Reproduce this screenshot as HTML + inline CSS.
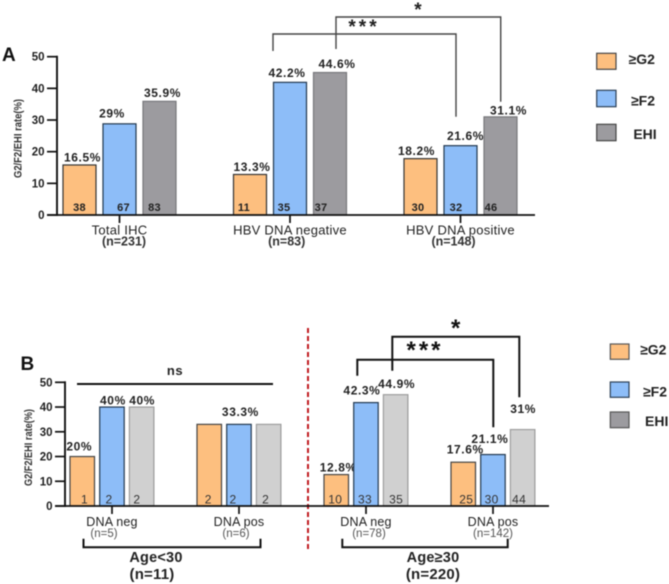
<!DOCTYPE html>
<html lang="en">
<head>
<meta charset="utf-8">
<title>G2/F2/EHI rate charts</title>
<style>
html,body{margin:0;padding:0;background:#fff;width:669px;height:584px;overflow:hidden}
svg{display:block;font-family:"Liberation Sans",Arial,sans-serif;filter:blur(.45px)}
</style>
</head>
<body>
<svg id="figure" width="669" height="584" viewBox="0 0 669 584" xmlns="http://www.w3.org/2000/svg">
  <rect width="669" height="584" fill="#fff"/>
  <text x="2" y="61" font-size="19" font-weight="700" fill="#111">A</text>
  <text x="20.5" y="370" font-size="19" font-weight="700" fill="#111">B</text>

  <g fill="none" stroke="#444" stroke-width="1.4">
    <path d="M273 51V34H456V116.7"/>
    <path d="M336 49V17H500.7V101.7"/>
  </g>
  <text x="364" y="33" font-size="19" font-weight="700" text-anchor="middle" letter-spacing="3" fill="#222">***</text>
  <text x="418" y="16" font-size="19" font-weight="700" text-anchor="middle" fill="#222">*</text>

  <g fill="none" stroke="#111" stroke-width="2">
    <path d="M357.3 375.7V359.7H493.3V427.3"/>
    <path d="M392.3 370.7V336.7H519.3V397.3"/>
    <path d="M77 384H273"/>
    <path d="M83.5 538.7V547.3H260.5V538.7"/>
    <path d="M342.3 538.7V547.3H507.7V538.7"/>
  </g>
  <text x="425" y="358" font-size="24" font-weight="700" text-anchor="middle" letter-spacing="3" fill="#111">***</text>
  <text x="455.7" y="336" font-size="24" font-weight="700" text-anchor="middle" fill="#111">*</text>
  <text x="175" y="375" font-size="13" font-weight="700" text-anchor="middle" letter-spacing=".5" fill="#222">ns</text>
  <path d="M308 328V550" stroke="#c01a20" stroke-width="2" stroke-dasharray="5 3" fill="none"/>

  <text x="156" y="562" font-size="14.5" font-weight="700" text-anchor="middle" letter-spacing=".2" fill="#222">Age&lt;30</text>
  <text x="152" y="579" font-size="15" font-weight="700" text-anchor="middle" letter-spacing=".2" fill="#222">(n=11)</text>
  <text x="433" y="562" font-size="14.5" font-weight="700" text-anchor="middle" letter-spacing=".2" fill="#222">Age≥30</text>
  <text x="433" y="579" font-size="15" font-weight="700" text-anchor="middle" letter-spacing=".2" fill="#222">(n=220)</text>

  <g font-size="14" font-weight="700" fill="#222" text-anchor="middle">
    <rect x="596.7" y="53.3" width="19.3" height="16" fill="#FDBF7F" stroke="#444" stroke-width="1.2"/>
    <text x="641.7" y="64">≥G2</text>
    <rect x="596.7" y="90.3" width="19.3" height="16.4" fill="#8DBDF8" stroke="#2b3f55" stroke-width="1.2"/>
    <text x="643" y="105.5">≥F2</text>
    <rect x="596.7" y="124.3" width="19.3" height="16.4" fill="#9C9B9F" stroke="#444" stroke-width="1.2"/>
    <text x="645" y="139">EHI</text>
  </g>
  <g font-size="14" font-weight="700" fill="#222" text-anchor="middle">
    <rect x="610.3" y="344" width="18.7" height="15.3" fill="#FDBF7F" stroke="#555" stroke-width="1.2"/>
    <text x="653.3" y="354.5">≥G2</text>
    <rect x="610.3" y="382" width="18.7" height="15.3" fill="#8DBDF8" stroke="#2b3f55" stroke-width="1.2"/>
    <text x="655" y="396.5">≥F2</text>
    <rect x="610.3" y="412" width="18.7" height="15.7" fill="#9C9B9F" stroke="#555" stroke-width="1.2"/>
    <text x="656.7" y="426">EHI</text>
  </g>
</svg>
<script>
/* ---------- Data: panel A ---------- */
const yTickValues = [0, 10, 20, 30, 40, 50];
const categoriesA = ["Total IHC", "HBV DNA negative", "HBV DNA positive"];
const sampleSizesA = ["(n=231)", "(n=83)", "(n=148)"];
const g2ValuesA = [15.8, 12.8, 17.8];
const f2ValuesA = [28.8, 41.9, 21.9];
const ehiValuesA = [35.9, 45, 31];
const g2LabelsA = ["16.5%", "13.3%", "18.2%"];
const f2LabelsA = ["29%", "42.2%", "21.6%"];
const ehiLabelsA = ["35.9%", "44.6%", "31.1%"];
const g2CountsA = ["38", "11", "30"];
const f2CountsA = ["67", "35", "32"];
const ehiCountsA = ["83", "37", "46"];

/* ---------- Data: panel B ---------- */
const categoriesB = ["DNA neg", "DNA pos", "DNA neg", "DNA pos"];
const sampleSizesB = ["(n=5)", "(n=6)", "(n=78)", "(n=142)"];
const g2ValuesB = [20, 33, 12.7, 17.7];
const f2ValuesB = [40, 33, 41.8, 20.8];
const ehiValuesB = [40, 33, 45, 30.9];
const g2LabelsB = ["20%", "", "12.8%", "17.6%"];
const f2LabelsB = ["40%", "33.3%", "42.3%", "21.1%"];
const ehiLabelsB = ["40%", "", "44.9%", "31%"];
const g2CountsB = ["1", "2", "10", "25"];
const f2CountsB = ["2", "2", "33", "30"];
const ehiCountsB = ["2", "2", "35", "44"];

/* ---------- Hand placement of annotations relative to their bars (layout, not data) ---------- */
const layoutA = {
  x0: 63, groupStep: 170.5, barStep: 40, barWidth: 33, axisX: 57, axisStart: 47, axisEnd: 535,
  yBase: 215, yTop: 56.7, tickBottom: 223, centerOffset: 56.5,
  colors: ["#FDBF7F", "#8DBDF8", "#9C9B9F"], strokes: ["#333", "#22384f", "#77777b"],
  labelNudge: [[[3,-3.5],[-7.5,-6.5],[3,-4.5]],[[2,-3.5],[-3,-5.5],[7,-4.5]],[[-4,-3.5],[5,-5.5],[8,-2.5]]],
  countNudge: [[0,4,-5],[-6,-6,-9],[-2.5,-4.5,-9.5]],
  countY: 211, countSize: 11, countWeight: 700, countFill: "#222",
  nameNudge: [0,0,0], sizeNudge: [4.5,-3.3,-7], nameY: 234.7, sizeY: 245.7,
  nameSize: 13, nameSpacing: .25, sizeSize: 12.5, sizeWeight: 700, sizeFill: "#333",
  tickFont: 11.5, titleX: 21.5, titleMid: 138.5, titleLen: 79
};
const layoutB = {
  x0: 70, groupStep: 127, barStep: 29.7, barWidth: 24.5, axisX: 65, axisStart: 55, axisEnd: 549,
  yBase: 506, yTop: 382.3, tickBottom: 514, centerOffset: 42,
  colors: ["#FDBF7F", "#8DBDF8", "#D0D0D0"], strokes: ["#444", "#22384f", "#9d9d9d"],
  labelNudge: [[[-3,-6],[1,-2.5],[.5,-2.5]],[[0,0],[1.5,-8.5],[0,0]],[[2,-3],[-4,-8],[1,-6.7]],[[2,-8.6],[-3,-11.3],[.5,-16.4]]],
  countNudge: [[2.3,-3,-4.8],[-1,-6,-3],[-1,-1,.5],[3,-1.3,-3.5]],
  countY: 503.5, countSize: 12, countWeight: 400, countFill: "#333",
  nameNudge: [0,0,0,0], sizeNudge: [-8,-3,3,0], nameY: 526, sizeY: 537,
  nameSize: 12.5, nameSpacing: .2, sizeSize: 11.5, sizeWeight: 400, sizeFill: "#555",
  tickFont: 11.5, titleX: 32, titleMid: 447.5, titleLen: 77
};

const SVG_NS = "http://www.w3.org/2000/svg";
const figure = document.getElementById("figure");
function makeEl(parent, tag, attrs, content) {
  const el = document.createElementNS(SVG_NS, tag);
  for (const k in attrs) el.setAttribute(k, attrs[k]);
  if (content !== undefined) el.textContent = content;
  parent.appendChild(el);
  return el;
}
function drawPanel(panel, L, categories, sizes, seriesValues, seriesLabels, seriesCounts) {
  const yScale = v => L.yBase - (v / 50) * (L.yBase - L.yTop);
  const groupX = i => L.x0 + i * L.groupStep;
  const barX = (i, s) => groupX(i) + s * L.barStep;
  const root = makeEl(figure, "g", {});
  
  

  seriesValues.forEach((values, s) => {
    values.forEach((v, i) => {
      const bar = makeEl(root, "rect", {
        x: barX(i, s), y: yScale(v), width: L.barWidth, height: L.yBase - yScale(v),
        fill: L.colors[s], stroke: L.strokes[s], "stroke-width": 1.2
      });
      
      

      const text = seriesLabels[s][i];
      if (text) {
        const n = L.labelNudge[i][s];
        const label = makeEl(root, "text", {
          x: barX(i, s) + L.barWidth / 2 + n[0], y: yScale(v) + n[1], "font-size": 12,
          "font-weight": 700, "text-anchor": "middle", "letter-spacing": ".6", fill: "#222"
        }, text);
        
        
      }
      const count = makeEl(root, "text", {
        x: barX(i, s) + L.barWidth / 2 + L.countNudge[i][s], y: L.countY, "font-size": L.countSize,
        "font-weight": L.countWeight, "text-anchor": "middle", "letter-spacing": ".3", fill: L.countFill
      }, seriesCounts[s][i]);
      
      
    });
  });

  const yAxis = makeEl(root, "line", { x1: L.axisX, x2: L.axisX, y1: L.yTop - 1, y2: L.yBase + 1, stroke: "#111", "stroke-width": 1.9 });
  
  
  const xAxis = makeEl(root, "line", { x1: L.axisStart, x2: L.axisEnd, y1: L.yBase, y2: L.yBase, stroke: "#111", "stroke-width": 1.7 });
  
  

  yTickValues.forEach(t => {
    const tick = makeEl(root, "line", { x1: L.axisStart, x2: L.axisX, y1: yScale(t), y2: yScale(t), stroke: "#111", "stroke-width": 1.7 });
    
    
    const tl = makeEl(root, "text", { x: L.axisStart - 2.5, y: yScale(t) + 4, "font-size": L.tickFont, "font-weight": 700, "text-anchor": "end", fill: "#222" }, String(t));
    
    
  });

  categories.forEach((c, i) => {
    const cx = groupX(i) + L.centerOffset;
    const tick = makeEl(root, "line", { x1: cx, x2: cx, y1: L.yBase, y2: L.tickBottom, stroke: "#111", "stroke-width": 1.7 });
    
    
    const name = makeEl(root, "text", { x: cx + L.nameNudge[i], y: L.nameY, "font-size": L.nameSize, "text-anchor": "middle", "letter-spacing": L.nameSpacing, fill: "#222" }, c);
    
    
    const n = makeEl(root, "text", { x: cx + L.sizeNudge[i], y: L.sizeY, "font-size": L.sizeSize, "font-weight": L.sizeWeight, "text-anchor": "middle", fill: L.sizeFill }, sizes[i]);
    
    
  });

  const title = makeEl(root, "text", {
    transform: "translate(" + L.titleX + " " + L.titleMid + ") rotate(-90)", "font-size": 11, "font-weight": 700,
    "text-anchor": "middle", textLength: L.titleLen, lengthAdjust: "spacingAndGlyphs", fill: "#333"
  }, "G2/F2/EHI rate(%)");
  
  
}
drawPanel("a", layoutA, categoriesA, sampleSizesA,
  [g2ValuesA, f2ValuesA, ehiValuesA], [g2LabelsA, f2LabelsA, ehiLabelsA], [g2CountsA, f2CountsA, ehiCountsA]);
drawPanel("b", layoutB, categoriesB, sampleSizesB,
  [g2ValuesB, f2ValuesB, ehiValuesB], [g2LabelsB, f2LabelsB, ehiLabelsB], [g2CountsB, f2CountsB, ehiCountsB]);
</script>
</body>
</html>
